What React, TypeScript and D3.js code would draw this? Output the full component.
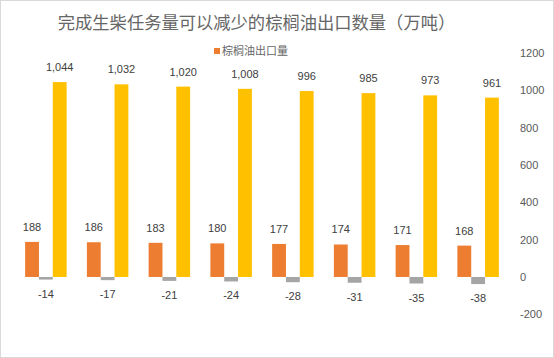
import React from "react";
import * as d3 from "d3";

const categories = ["1", "2", "3", "4", "5", "6", "7", "8"];
const orangeValues = [188, 186, 183, 180, 177, 174, 171, 168];
const grayValues = [-14, -17, -21, -24, -28, -31, -35, -38];
const yellowValues = [1044, 1032, 1020, 1008, 996, 985, 973, 961];
const yTicks = [-200, 0, 200, 400, 600, 800, 1000, 1200];
const title = "完成生柴任务量可以减少的棕榈油出口数量（万吨）";
const legendLabel = "棕榈油出口量";

const W = 554;
const H = 358;
const plotLeft = 15;
const plotRight = 509;

export default function App() {
  const y = d3.scaleLinear().domain([-200, 1200]).range([314.3, 53]);
  const x = d3.scaleBand<string>().domain(categories).range([plotLeft, plotRight]).paddingInner(0).paddingOuter(0);
  const step = x.bandwidth();
  const groupW = step * 0.672;
  const sx = d3.scaleBand<number>().domain([0, 1, 2]).range([0, groupW]);
  const bw = sx.bandwidth();
  const off = (step - groupW) / 2;
  const fmt = d3.format(",");
  const numFont = "'Liberation Sans', Arial, sans-serif";
  const cjkFont = "'Noto Sans CJK SC', sans-serif";
  const series = [
    { values: orangeValues, color: "#ED7D31" },
    { values: grayValues, color: "#A5A5A5" },
    { values: yellowValues, color: "#FFC000" },
  ];
  return (
    <svg width={W} height={H} style={{ position: "absolute", left: 0, top: 0 }}>
      <rect x={0.5} y={0.5} width={W - 1} height={H - 1} fill="#fff" stroke="#D9D9D9" />
      <text x={256.5} y={29} textAnchor="middle" fontFamily={cjkFont} fontSize={17.3} fill="#666666">
        {title}
      </text>
      <rect x={214} y={48} width={6} height={6} fill="#ED7D31" />
      <text x={222} y={55} fontFamily={cjkFont} fontSize={11} fill="#666666">
        {legendLabel}
      </text>
      {yTicks.map((t) => (
        <text key={t} x={520} y={y(t) + 4} fontFamily={numFont} fontSize={11} fill="#595959">
          {t}
        </text>
      ))}
      {series.map((s, si) =>
        categories.map((c, i) => {
          const v = s.values[i];
          const bx = (x(c) as number) + off + (sx(si) as number);
          const y0 = y(0);
          const yv = y(v);
          const top = Math.min(y0, yv);
          const h = Math.abs(y0 - yv);
          const ly = v >= 0 ? yv - 11 : yv + 18;
          return (
            <g key={`${si}-${c}`}>
              <rect x={bx} y={top} width={bw} height={h} fill={s.color} />
              <text x={bx + bw / 2} y={ly} textAnchor="middle" fontFamily={numFont} fontSize={11} fill="#404040">
                {fmt(v).replace("−", "-")}
              </text>
            </g>
          );
        })
      )}
    </svg>
  );
}
